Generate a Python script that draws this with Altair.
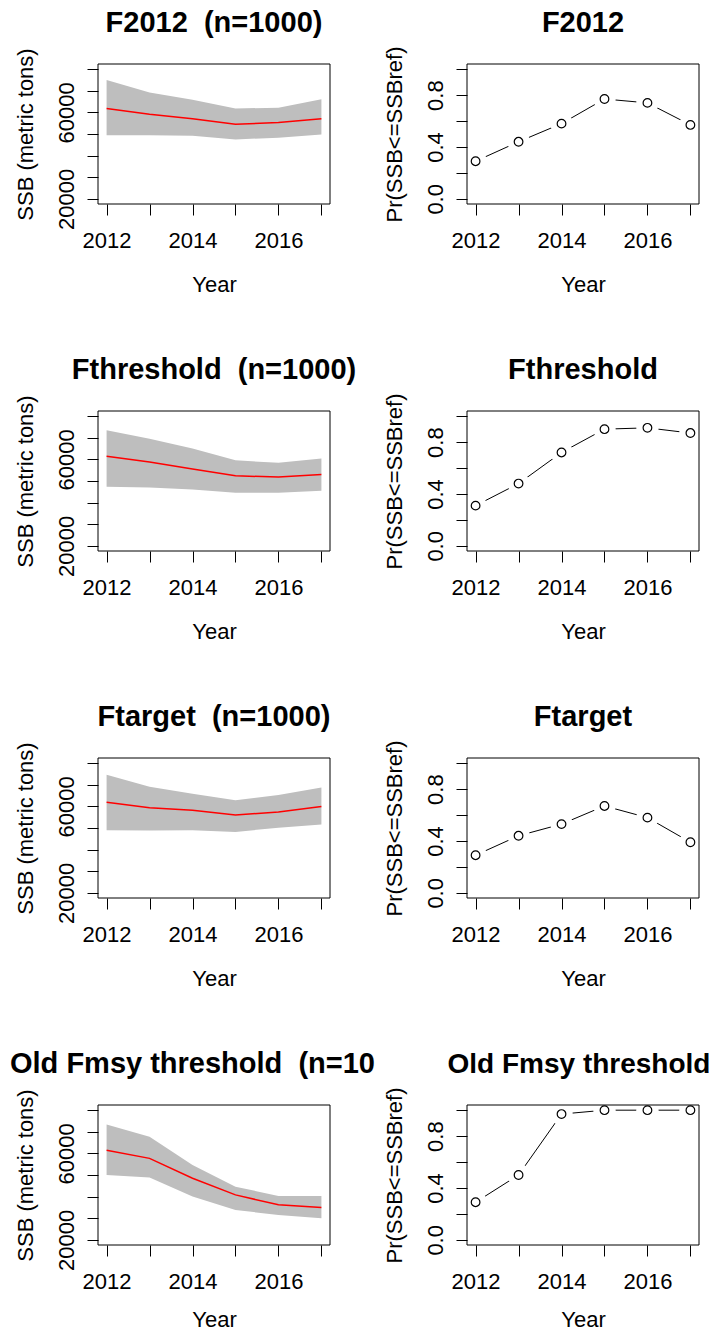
import altair as alt
import pandas as pd

# ---------------- data ----------------
years = [2012, 2013, 2014, 2015, 2016, 2017]

NB = "\u00a0"
left_titles = ["F2012 " + NB + "(n=1000)", "Fthreshold " + NB + "(n=1000)",
               "Ftarget " + NB + "(n=1000)", "Old Fmsy threshold " + NB + "(n=10"]
right_titles = ["F2012", "Fthreshold", "Ftarget", "Old Fmsy threshold"]

ssb_median_f2012 = [61800, 59100, 57100, 54500, 55300, 57100]
ssb_upper_f2012 = [75000, 69200, 65800, 61800, 62200, 66100]
ssb_lower_f2012 = [49400, 49400, 49200, 47500, 48300, 49800]

ssb_median_fthreshold = [61500, 58800, 55600, 52400, 51800, 53000]
ssb_upper_fthreshold = [73500, 69600, 65000, 59600, 58400, 60400]
ssb_lower_fthreshold = [47300, 47000, 46100, 44600, 44600, 45500]

ssb_median_ftarget = [61900, 59400, 58200, 56000, 57400, 60000]
ssb_upper_ftarget = [74700, 69100, 65900, 62800, 65300, 68700]
ssb_lower_ftarget = [49000, 48800, 49000, 48200, 50100, 51600]

ssb_median_oldfmsy = [61500, 57700, 48500, 40800, 36200, 34900]
ssb_upper_oldfmsy = [73400, 67700, 54600, 44600, 40300, 40300]
ssb_lower_oldfmsy = [50000, 48900, 40000, 33800, 31500, 30000]

prob_f2012 = [0.29, 0.44, 0.58, 0.77, 0.74, 0.57]
prob_fthreshold = [0.31, 0.48, 0.72, 0.90, 0.91, 0.87]
prob_ftarget = [0.29, 0.44, 0.53, 0.67, 0.58, 0.39]
prob_oldfmsy = [0.29, 0.50, 0.97, 1.0, 1.0, 1.0]

ssb_ticks = [20000, 30000, 40000, 50000, 60000, 70000, 80000]
prob_ticks = [0.0, 0.2, 0.4, 0.6, 0.8, 1.0]

medians = [ssb_median_f2012, ssb_median_fthreshold, ssb_median_ftarget, ssb_median_oldfmsy]
uppers = [ssb_upper_f2012, ssb_upper_fthreshold, ssb_upper_ftarget, ssb_upper_oldfmsy]
lowers = [ssb_lower_f2012, ssb_lower_fthreshold, ssb_lower_ftarget, ssb_lower_oldfmsy]
probs = [prob_f2012, prob_fthreshold, prob_ftarget, prob_oldfmsy]

# ---------------- styling ----------------
FONT = "Liberation Sans"
W, H = 232, 140

xscale = alt.Scale(domain=[2011.8, 2017.2], nice=False, zero=False)
ssb_scale = alt.Scale(domain=[17600, 82400], nice=False, zero=False)
prob_scale = alt.Scale(domain=[-0.04, 1.04], nice=False, zero=False)


def x_axis(last_row=False):
    return alt.Axis(
        values=years,
        labelExpr="datum.value % 2 == 0 ? format(datum.value, 'd') : ''",
        title="Year",
        labelPadding=15,
        titlePadding=17 if last_row else 23,
    )


ssb_axis = alt.Axis(
    values=ssb_ticks,
    labelExpr="(datum.value == 20000 || datum.value == 60000) ? format(datum.value, 'd') : ''",
    title="SSB (metric tons)",
    labelAngle=270,
    labelAlign="center",
    labelBaseline="alphabetic",
    labelPadding=14,
    titlePadding=18,
)
prob_axis = alt.Axis(
    values=prob_ticks,
    labelExpr="round(datum.value * 10) % 4 == 0 ? format(datum.value, '.1f') : ''",
    title="Pr(SSB<=SSBref)",
    labelAngle=270,
    labelAlign="center",
    labelBaseline="alphabetic",
    labelPadding=14,
    titlePadding=18,
)


def title_layer(text, align="center", xpos=W / 2, size=29):
    return alt.Chart(pd.DataFrame({"t": [text]})).mark_text(
        font=FONT, fontSize=size, fontWeight="bold", color="black",
        align=align, baseline="alphabetic",
    ).encode(
        text="t:N",
        x=alt.value(xpos),
        y=alt.value(-32),
    )


def box_layer():
    return alt.Chart(pd.DataFrame({"b": [0]})).mark_rect(
        fillOpacity=0, stroke="black", strokeWidth=1
    ).encode(x=alt.value(0), x2=alt.value(W), y=alt.value(0), y2=alt.value(H))


def left_panel(i):
    df = pd.DataFrame({"year": years, "med": medians[i], "hi": uppers[i], "lo": lowers[i]})
    base = alt.Chart(df)
    xa = x_axis(i == 3)
    band = base.mark_area(color="#BEBEBE", opacity=1).encode(
        x=alt.X("year:Q", scale=xscale, axis=xa),
        y=alt.Y("lo:Q", scale=ssb_scale, axis=ssb_axis),
        y2="hi:Q",
    )
    med = base.mark_line(color="#FF0000", strokeWidth=1.5).encode(
        x=alt.X("year:Q", scale=xscale, axis=xa),
        y=alt.Y("med:Q", scale=ssb_scale, axis=ssb_axis),
    )
    if i == 3:
        ttl = title_layer(left_titles[i], align="left", xpos=-88)
    else:
        ttl = title_layer(left_titles[i])
    return alt.layer(band, med, box_layer(), ttl).properties(width=W, height=H)


def right_panel(i):
    df = pd.DataFrame({"year": years, "p": probs[i]})
    base = alt.Chart(df).encode(
        x=alt.X("year:Q", scale=xscale, axis=x_axis(i == 3)),
        y=alt.Y("p:Q", scale=prob_scale, axis=prob_axis),
    )
    line = base.mark_line(color="black", strokeWidth=1)
    halo = base.mark_point(shape="circle", filled=True, color="white", opacity=1, size=500)
    pts = base.mark_point(shape="circle", filled=False, color="black", opacity=1, size=75, strokeWidth=1.2)
    if i == 3:
        ttl = title_layer(right_titles[i], xpos=W / 2 - 4, size=28)
    else:
        ttl = title_layer(right_titles[i])
    return alt.layer(line, halo, pts, box_layer(), ttl).properties(width=W, height=H)


panels = []
for i in range(4):
    panels.append(left_panel(i))
    panels.append(right_panel(i))

chart = alt.concat(
    *panels, columns=2, spacing={"row": 207, "column": 137}, bounds="flush"
).properties(
    padding={"left": 2, "top": 1, "right": -2, "bottom": 0}
).configure_axis(
    labelFont=FONT, titleFont=FONT, labelFontSize=22, titleFontSize=22,
    labelColor="black", titleColor="black", titleFontWeight="normal",
    tickColor="black", tickSize=11, tickWidth=1, domain=False, grid=False,
    labelFlush=False, labelOverlap=False, labelBound=False,
).configure_view(strokeWidth=0)

chart.save("out.html", embed_options={"renderer": "svg", "actions": False})
